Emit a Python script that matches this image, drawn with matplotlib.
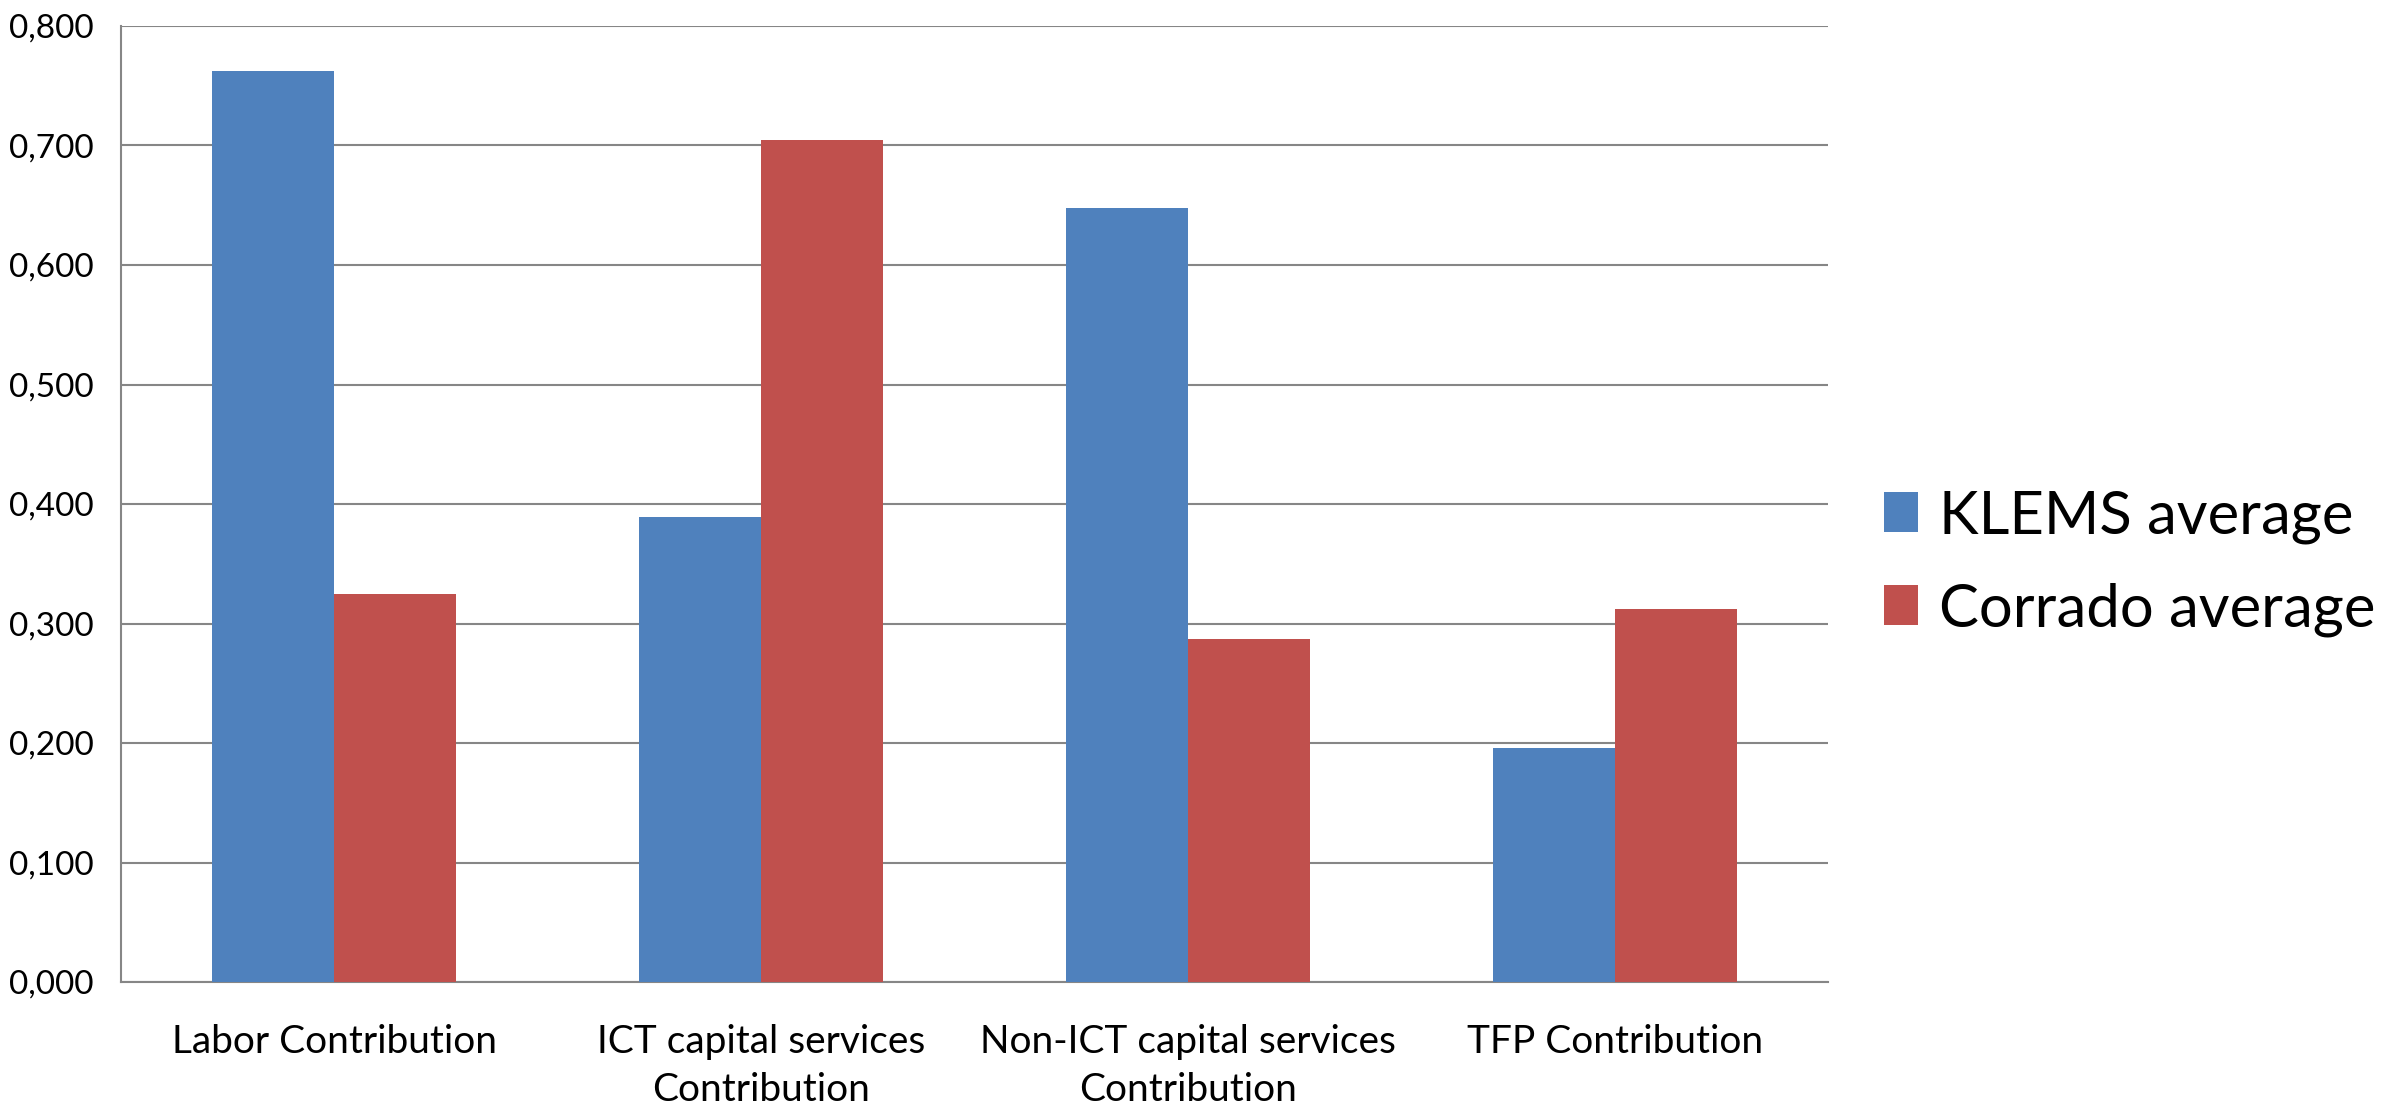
import numpy as np
import matplotlib
matplotlib.use('Agg')
import matplotlib.pyplot as plt
from matplotlib.ticker import FuncFormatter

plt.rcParams['font.family'] = ['Lato', 'DejaVu Sans']

# data
categories = ['Labor Contribution', 'ICT capital services\nContribution',
              'Non-ICT capital services\nContribution', 'TFP Contribution']
klems = [0.762, 0.389, 0.648, 0.196]
corrado = [0.325, 0.705, 0.287, 0.312]
series_names = ['KLEMS average', 'Corrado average']
yticks = [0.0, 0.1, 0.2, 0.3, 0.4, 0.5, 0.6, 0.7, 0.8]

blue = '#4F81BD'
red = '#C0504D'
grid_c = '#868686'

fig = plt.figure(figsize=(23.92, 11.06), dpi=100)
ax = fig.add_axes([0.0506, 0.1121, 0.7136, 0.8644])

x = np.arange(len(categories))
w = 1 / 3.5
ax.bar(x - w/2, klems, w, color=blue, label=series_names[0], zorder=3)
ax.bar(x + w/2, corrado, w, color=red, label=series_names[1], zorder=3)

ax.set_xlim(-0.5, len(categories) - 0.5)
ax.set_ylim(0, 0.8)
ax.set_yticks(yticks)
ax.yaxis.set_major_formatter(FuncFormatter(lambda v, p: f'{v:.3f}'.replace('.', ',')))
ax.set_xticks(x)
ax.set_xticklabels(categories, fontsize=28, linespacing=1.42)
ax.tick_params(axis='y', labelsize=24, length=0, pad=20)
ax.tick_params(axis='x', length=0, pad=30)
ax.grid(axis='y', color=grid_c, linewidth=1.5, zorder=0)

for s in ['top', 'right']:
    ax.spines[s].set_visible(False)
for s in ['left', 'bottom']:
    ax.spines[s].set_color(grid_c)
    ax.spines[s].set_linewidth(1.5)

ax.legend(loc='center left', bbox_to_anchor=(0.775, 0.491),
          bbox_transform=fig.transFigure, frameon=False, borderpad=0,
          fontsize=43, handlelength=0.58, handleheight=0.65,
          handletextpad=0.35, labelspacing=0.65)

fig.savefig('out.png', dpi=100)
